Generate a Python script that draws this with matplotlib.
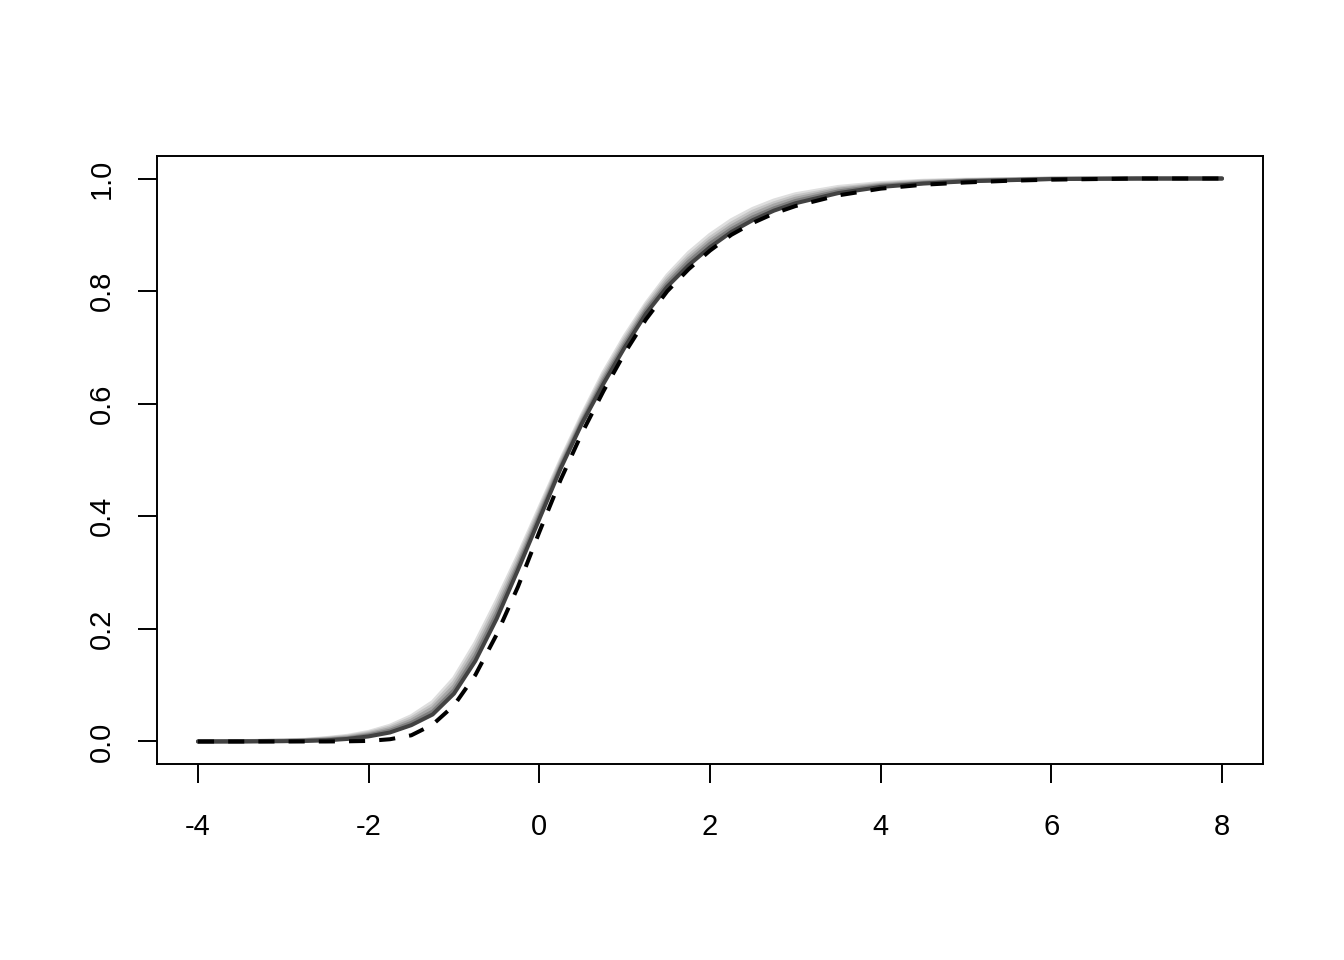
import numpy as np
import matplotlib
matplotlib.use("Agg")
import matplotlib.pyplot as plt

plt.rcParams['font.family'] = ['Liberation Sans', 'DejaVu Sans']

xGrid = [-4, -3.5, -3, -2.75, -2.5, -2.25, -2, -1.75, -1.5, -1.25, -1, -0.75, -0.5, -0.25,
         0, 0.25, 0.5, 0.75, 1, 1.25, 1.5, 1.75, 2, 2.25, 2.5, 2.75, 3, 3.5, 4, 4.5, 5, 5.5,
         6, 7, 8]

# grey curves, lightest first
grey1 = [0, 0.0005, 0.002, 0.003, 0.006, 0.010, 0.017, 0.028, 0.045, 0.070, 0.112, 0.175,
         0.250, 0.330, 0.415, 0.500, 0.580, 0.655, 0.720, 0.778, 0.828, 0.868, 0.900, 0.926,
         0.946, 0.961, 0.972, 0.985, 0.992, 0.996, 0.998, 0.999, 1.0, 1.0, 1.0]
grey2 = [0, 0.0004, 0.0016, 0.0025, 0.005, 0.0085, 0.015, 0.025, 0.041, 0.064, 0.105, 0.167,
         0.242, 0.324, 0.410, 0.496, 0.576, 0.650, 0.715, 0.774, 0.823, 0.862, 0.894, 0.920,
         0.941, 0.956, 0.968, 0.982, 0.990, 0.995, 0.997, 0.9985, 0.9998, 1.0, 1.0]
grey3 = [0, 0.0003, 0.0012, 0.002, 0.004, 0.007, 0.013, 0.022, 0.037, 0.059, 0.098, 0.159,
         0.234, 0.317, 0.405, 0.492, 0.572, 0.645, 0.710, 0.769, 0.818, 0.857, 0.889, 0.915,
         0.936, 0.952, 0.964, 0.980, 0.9885, 0.9935, 0.9965, 0.998, 0.9995, 1.0, 1.0]
grey4 = [0, 0.00025, 0.0008, 0.0015, 0.003, 0.0055, 0.011, 0.019, 0.033, 0.053, 0.091, 0.151,
         0.226, 0.311, 0.400, 0.488, 0.568, 0.640, 0.705, 0.765, 0.813, 0.852, 0.884, 0.910,
         0.931, 0.947, 0.960, 0.977, 0.987, 0.992, 0.996, 0.9975, 0.9992, 1.0, 1.0]
grey5 = [0, 0.0002, 0.0005, 0.001, 0.002, 0.0045, 0.009, 0.016, 0.029, 0.048, 0.085, 0.143,
         0.218, 0.305, 0.395, 0.485, 0.565, 0.635, 0.700, 0.760, 0.808, 0.846, 0.878, 0.905,
         0.926, 0.943, 0.956, 0.974, 0.985, 0.991, 0.995, 0.997, 0.999, 1.0, 1.0]
greyCurves = [grey1, grey2, grey3, grey4, grey5]
greyColors = ['#dedede', '#c4c4c4', '#a6a6a6', '#808080', '#424242']

# reference curve (dashed black)
dashed = [0, 0, 0, 0, 0, 0.0003, 0.001, 0.004, 0.011, 0.030, 0.064, 0.118, 0.190, 0.275,
          0.372, 0.465, 0.548, 0.622, 0.690, 0.750, 0.800, 0.839, 0.872, 0.900, 0.921, 0.938,
          0.951, 0.970, 0.982, 0.989, 0.993, 0.996, 0.998, 1.0, 1.0]

xTicks = [-4, -2, 0, 2, 4, 6, 8]
yTicks = [0.0, 0.2, 0.4, 0.6, 0.8, 1.0]

fig = plt.figure(figsize=(13.44, 9.6), dpi=100)
ax = fig.add_axes([157/1344, 1-764/960, (1263-157)/1344, (764-156)/960])

for yv, col in zip(greyCurves, greyColors):
    ax.plot(xGrid, yv, color=col, lw=2.9, solid_capstyle='round', solid_joinstyle='round')
ax.plot(xGrid, dashed, color='black', lw=2.9, dashes=(4, 3.5), dash_capstyle='butt')

ax.set_xlim(-4.48, 8.48)
ax.set_ylim(-0.04, 1.04)
ax.set_xticks(xTicks)
ax.set_xticklabels([str(v) for v in xTicks])
ax.set_yticks(yTicks)
ax.set_yticklabels(['%.1f' % v for v in yTicks], rotation=90, va='center')

for sp in ax.spines.values():
    sp.set_linewidth(1.4)
ax.tick_params(direction='out', length=13.5, width=1.4, labelsize=21)
ax.tick_params(axis='x', pad=22)
ax.tick_params(axis='y', pad=16)

fig.savefig('out.png', dpi=100)
